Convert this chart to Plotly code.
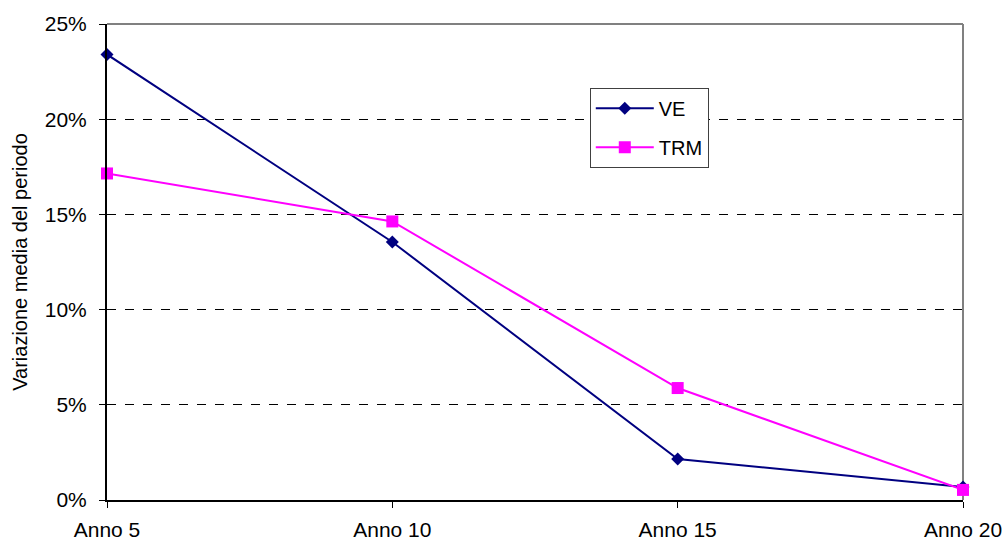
import plotly.graph_objects as go

categories = ["Anno 5", "Anno 10", "Anno 15", "Anno 20"]
ve = [0.234, 0.1355, 0.0215, 0.0068]
trm = [0.1715, 0.1463, 0.0588, 0.0053]
y_ticks = [0, 0.05, 0.10, 0.15, 0.20, 0.25]

FONT = "Liberation Sans, Arial, sans-serif"

fig = go.Figure()
fig.add_trace(go.Scatter(
    x=categories, y=ve, name="VE", mode="lines+markers",
    line=dict(color="#000080", width=2),
    marker=dict(symbol="diamond", size=10, color="#000080"),
    cliponaxis=False, legendgroup="a",
))
fig.add_trace(go.Scatter(
    x=categories, y=trm, name="TRM", mode="lines+markers",
    line=dict(color="#FF00FF", width=2),
    marker=dict(symbol="square", size=12, color="#FF00FF"),
    cliponaxis=False, legendgroup="b",
))

fig.update_layout(
    width=1006, height=541,
    margin=dict(l=107, r=43, t=24, b=41, autoexpand=False),
    paper_bgcolor="white", plot_bgcolor="white",
    font=dict(family=FONT, size=20, color="black"),
    showlegend=True,
    legend=dict(
        x=0.564, y=0.866, xanchor="left", yanchor="top",
        bgcolor="white", bordercolor="#404040", borderwidth=1,
        font=dict(size=20), tracegroupgap=10, itemwidth=58,
    ),
    xaxis=dict(
        type="category", range=[0, 3], showgrid=False,
        showline=True, linecolor="black", linewidth=2,
        ticks="outside", ticklen=6, tickcolor="black", tickwidth=1,
        tickfont=dict(size=21), zeroline=False, ticklabelstandoff=4,
    ),
    yaxis=dict(
        range=[0, 0.25], tickvals=y_ticks, tickformat=".0%",
        showgrid=True, gridcolor="black", griddash="dash", gridwidth=1,
        showline=True, linecolor="black", linewidth=2,
        ticks="outside", ticklen=6, tickcolor="black",
        tickfont=dict(size=21),
        ticklabelstandoff=8, zeroline=False,
        title=dict(text="Variazione media del periodo", font=dict(size=20), standoff=12),
    ),
    shapes=[
        dict(type="line", xref="paper", yref="paper", x0=0, x1=1, y0=1, y1=1,
             line=dict(color="#808080", width=2), layer="above"),
        dict(type="line", xref="paper", yref="paper", x0=1, x1=1, y0=0, y1=1,
             line=dict(color="#808080", width=2), layer="below"),
    ],
)

fig.write_html(
    "out.html",
    config={"displayModeBar": False},
    post_script="document.body.style.margin='0';document.body.style.overflow='hidden';",
)
